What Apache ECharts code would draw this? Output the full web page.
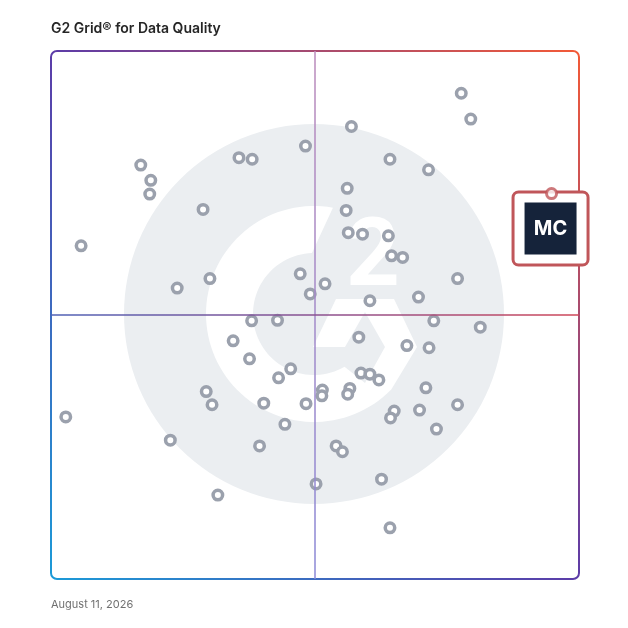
<!DOCTYPE html>
<html>
<head>
<meta charset="utf-8">
<script src="https://cdn.jsdelivr.net/npm/echarts@6/dist/echarts.min.js"></script>
<style>
  html, body { margin:0; padding:0; background:#fff; }
  #main { width:628px; height:628px; }
</style>
</head>
<body>
<div id="main"></div>
<script type="text/javascript">
// product positions (0-100 on both scales)
var xVals = [77.7,79.5,56.9,48.2,35.6,38.1,17.0,18.9,18.7,64.2,71.5,56.1,28.8,55.9,56.3,59.0,63.9,64.5,66.6,5.7,
             77.0,47.2,51.9,49.1,30.1,23.9,60.4,69.6,72.5,81.3,38.0,42.9,58.3,34.5,67.4,71.6,37.6,45.4,43.1,58.7,
             60.4,62.1,51.4,51.3,56.6,56.2,71.0,29.4,30.5,40.3,48.3,65.0,64.3,69.8,77.0,73.0,44.3,22.6,39.5,54.0,
             55.2,62.6,50.2,31.6,2.8,64.2];
var yVals = [92.0,87.1,85.7,82.0,79.8,79.5,78.4,75.5,72.9,79.5,77.5,74.0,70.0,69.8,65.6,65.3,65.0,61.2,60.9,63.1,
             56.9,57.8,55.9,54.0,56.9,55.1,52.7,53.4,48.9,47.7,48.9,49.0,45.8,45.1,44.2,43.8,41.7,39.8,38.1,39.0,
             38.8,37.7,35.8,34.7,36.1,35.0,36.2,35.5,33.0,33.3,33.2,31.8,30.5,32.0,33.0,28.4,29.3,26.3,25.2,25.2,
             24.1,18.9,18.0,15.9,30.7,9.7];
var highlightName = 'MC';
var highlightPos = [94.8, 73.0];
var titleText = 'G2 Grid\u00ae for Data Quality';
var dateText = 'August 11, 2026';

var points = xVals.map(function (x, i) { return [x, yVals[i]]; });

// watermark outline: sample an arc into polygon points
function arc(cx, cy, r, a0, a1, n) {
    var out = [];
    for (var i = 0; i <= n; i++) {
        var a = (a0 + (a1 - a0) * i / n) * Math.PI / 180;
        out.push([cx + r * Math.cos(a), cy + r * Math.sin(a)]);
    }
    return out;
}
var gShape = []
    .concat(arc(314, 314, 108, 280.1, 44.3, 80))
    .concat([[417, 347], [394, 299], [336, 299], [313, 347], [345, 347], [365, 312], [385, 347], [365, 383]])
    .concat(arc(314, 314, 61, 60, 268.1, 60));

var myChart = echarts.init(document.getElementById('main'));

var option = {
    animation: false,
    title: [
        { text: titleText, left: 51, top: 22, padding: 0,
          textStyle: { fontFamily: 'Inter', fontSize: 14, fontWeight: 600, color: '#262626' } },
        { text: dateText, left: 51, top: 599, padding: 0,
          textStyle: { fontFamily: 'Inter', fontSize: 11, fontWeight: 'normal', color: '#707070' } }
    ],
    grid: { left: 51, top: 51, width: 528, height: 528 },
    xAxis: { type: 'value', min: 0, max: 100, show: false },
    yAxis: { type: 'value', min: 0, max: 100, show: false },
    graphic: [
        // G2 watermark
        { type: 'circle', z: 0, silent: true, shape: { cx: 314, cy: 314, r: 190 }, style: { fill: '#ebeef1' } },
        { type: 'polygon', z: 0, silent: true, shape: { points: gShape }, style: { fill: '#ffffff' } },
        { type: 'text', z: 0, silent: true, x: 373, y: 261,
          style: { text: '2', fontFamily: 'Roboto', fontWeight: 'bold', fontSize: 94, fill: '#ffffff',
                   textAlign: 'center', textVerticalAlign: 'middle' } },
        // gradient frame
        { type: 'rect', z: 1, silent: true,
          shape: { x: 51, y: 51, width: 528, height: 528, r: 6 },
          style: { fill: 'none', lineWidth: 2,
                   stroke: { type: 'linear', x: 0, y: 1, x2: 1, y2: 0,
                             colorStops: [ { offset: 0, color: '#1b9bd8' },
                                           { offset: 0.5, color: '#5c3ca8' },
                                           { offset: 1, color: '#f45a36' } ] } } }
    ],
    series: [
        {
            type: 'scatter',
            z: 3,
            data: points,
            symbol: 'circle',
            symbolSize: 9.5,
            itemStyle: { color: '#ffffff', borderColor: '#9ba1ad', borderWidth: 3.5, opacity: 1 },
            markLine: {
                silent: true,
                symbol: 'none',
                label: { show: false },
                data: [
                    { xAxis: 50, lineStyle: { width: 1.5, type: 'solid',
                        color: { type: 'linear', x: 0, y: 0, x2: 0, y2: 1,
                                 colorStops: [ { offset: 0, color: '#bb8bbb' }, { offset: 1, color: '#8a88d6' } ] } } },
                    { yAxis: 50, lineStyle: { width: 1.5, type: 'solid',
                        color: { type: 'linear', x: 0, y: 0, x2: 1, y2: 0,
                                 colorStops: [ { offset: 0, color: '#4f62b6' }, { offset: 0.5, color: '#8a5090' }, { offset: 1, color: '#cf4758' } ] } } }
                ]
            }
        },
        {
            type: 'scatter',
            z: 4,
            silent: true,
            data: [highlightPos],
            symbol: 'circle',
            symbolSize: 0,
            itemStyle: { color: '#ffffff', opacity: 1 },
            label: {
                show: true,
                position: 'inside',
                offset: [-1, 35],
                opacity: 1,
                formatter: '{m|' + highlightName + '}',
                backgroundColor: '#ffffff',
                borderColor: '#c0565a',
                borderWidth: 3,
                borderRadius: 4,
                padding: [9, 10, 9, 10],
                rich: {
                    m: { backgroundColor: '#15233a', color: '#ffffff', width: 52, height: 52, lineHeight: 52,
                         align: 'center', fontFamily: 'Inter', fontWeight: 700, fontSize: 20 }
                }
            }
        },
        {
            type: 'scatter',
            z: 10,
            silent: true,
            data: [highlightPos],
            symbol: 'circle',
            symbolSize: 10,
            itemStyle: { color: '#ffffff', borderColor: '#c0565a', borderWidth: 3 }
        }
    ]
};

myChart.setOption(option);
window.addEventListener('resize', myChart.resize);
</script>
</body>
</html>
